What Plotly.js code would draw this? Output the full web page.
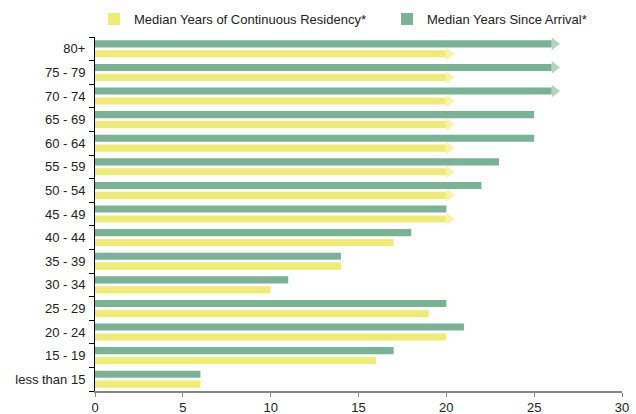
<!DOCTYPE html>
<html>
<head>
<meta charset="utf-8">
<script src="https://cdn.plot.ly/plotly-3.0.1.min.js"></script>
<style>html,body{margin:0;padding:0;background:#fff;}#chart{width:636px;height:414px;}</style>
</head>
<body>
<div id="chart"></div>
<script>
var categories = ['less than 15','15 - 19','20 - 24','25 - 29','30 - 34','35 - 39','40 - 44','45 - 49','50 - 54','55 - 59','60 - 64','65 - 69','70 - 74','75 - 79','80+'];
var residency = [6,16,20,19,10,14,17,20,20,20,20,20,20,20,20];
var arrival   = [6,17,21,20,11,14,18,20,22,23,25,25,26,26,26];
// true where the value is a capped (open-ended) median, drawn with an arrow
var residencyCapped = [false,false,false,false,false,false,false,true,true,true,true,true,true,true,true];
var arrivalCapped   = [false,false,false,false,false,false,false,false,false,false,false,false,true,true,true];
var xTicks = [0,5,10,15,20,25,30];

var GREEN = '#7bb296', YELLOW = '#f0eb74';
var GREEN_ARROW = '#b3d4c2', YELLOW_ARROW = '#f6f2ac';
var W = 636, H = 414, ML = 95, MR = 14, MT = 37, MB = 23;
var XMAX = 30;
var PW = W - ML - MR, PH = H - MT - MB;
var pxPerUnit = PW / XMAX;
var arrowSize = 11;
var arrowShift = (arrowSize / 4) / pxPerUnit; // left edge of triangle at bar end

var idx = categories.map(function(_, i){ return i; });
var off = 0.21, bw = 0.3;

function arrowPts(vals, capped, dy){
  var xs = [], ys = [];
  vals.forEach(function(v, i){ if (capped[i]) { xs.push(v + arrowShift); ys.push(i + dy); } });
  return {x: xs, y: ys};
}
var ra = arrowPts(residency, residencyCapped, -off);
var aa = arrowPts(arrival, arrivalCapped, off);

var traces = [
  {type:'bar', orientation:'h', name:'Median Years of Continuous Residency*', legend:'legend', x: residency, y: idx.map(function(i){return i - off;}), width: bw, marker:{color: YELLOW}, hoverinfo:'x'},
  {type:'bar', orientation:'h', name:'Median Years Since Arrival*', legend:'legend2', x: arrival, y: idx.map(function(i){return i + off;}), width: bw, marker:{color: GREEN}, hoverinfo:'x'},
  {type:'scatter', mode:'markers', x: ra.x, y: ra.y, showlegend:false, hoverinfo:'skip', marker:{symbol:'triangle-right', size: arrowSize, color: YELLOW_ARROW, line:{width:0}}, cliponaxis:false},
  {type:'scatter', mode:'markers', x: aa.x, y: aa.y, showlegend:false, hoverinfo:'skip', marker:{symbol:'triangle-right', size: arrowSize, color: GREEN_ARROW, line:{width:0}}, cliponaxis:false}
];

var boundaries = idx.map(function(i){ return i + 0.5; });
boundaries.unshift(-0.5);

// legend placed by its vertical centre, in container pixels
var legendBase = {orientation: 'h', xanchor: 'left', yanchor: 'middle', yref: 'container', font: {size: 13, color: '#222'}, itemwidth: 30, bgcolor: 'rgba(0,0,0,0)', y: 1 - 19 / H};

var layout = {
  width: W, height: H,
  margin: {l: ML, r: MR, t: MT, b: MB, pad: 0, autoexpand: false},
  paper_bgcolor: '#fff', plot_bgcolor: '#fff',
  font: {family: '"Liberation Sans", Arial, sans-serif', size: 13, color: '#222'},
  barmode: 'overlay',
  showlegend: true,
  legend: Object.assign({}, legendBase, {x: (94 - ML) / PW}),
  legend2: Object.assign({}, legendBase, {x: (387 - ML) / PW}),
  xaxis: {
    range: [0, XMAX], tickvals: xTicks, ticktext: xTicks.map(String),
    showgrid: false, zeroline: false,
    showline: true, linecolor: '#868686', linewidth: 1.5,
    ticks: 'outside', ticklen: 4, tickcolor: '#868686', tickwidth: 1,
    tickfont: {size: 13, color: '#222'}, fixedrange: true
  },
  yaxis: {
    range: [-0.5, categories.length - 0.5],
    tickvals: idx, ticktext: categories,
    showgrid: false, zeroline: false,
    showline: true, linecolor: '#000', linewidth: 1,
    ticks: 'outside', ticklen: 6, tickcolor: 'rgba(0,0,0,0)',
    minor: {tickvals: boundaries, ticks: 'outside', ticklen: 5, tickcolor: '#000', tickwidth: 1, showgrid: false},
    tickfont: {size: 13, color: '#222'}, fixedrange: true
  }
};

Plotly.newPlot('chart', traces, layout, {displayModeBar: false, staticPlot: true});
</script>
</body>
</html>
